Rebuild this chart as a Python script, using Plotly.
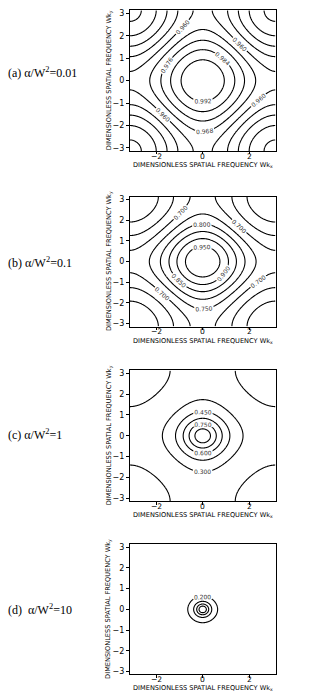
import numpy as np
import plotly.graph_objects as go

# ---- data ----
panel_labels = ["(a) α/W<sup>2</sup>=0.01", "(b) α/W<sup>2</sup>=0.1",
                "(c) α/W<sup>2</sup>=1", "(d)  α/W<sup>2</sup>=10"]
alphas = [0.01, 0.1, 1.0, 10.0]
level_start = [0.928, 0.60, 0.15, 0.20]
level_end = [0.992, 0.95, 0.90, 0.80]
level_step = [0.008, 0.05, 0.15, 0.20]
x_ticks = [-2, 0, 2]
y_ticks = [-3, -2, -1, 0, 1, 2, 3]
x_title = "DIMENSIONLESS SPATIAL FREQUENCY Wk<sub>x</sub>"
y_title = "DIMENSIONLESS SPATIAL FREQUENCY Wk<sub>y</sub>"

# ---- layout (pixel geometry) ----
W, H = 323, 699
x_px = (129.8, 275.6)
y_px = [(9.3, 150.7), (196.4, 327.0), (371.0, 502.4), (545.7, 676.3)]
label_y = [72, 263, 435, 611]
xtitle_gap = [14.5, 14, 13.8, 13.5]
xtick_gap = 5.4
ytitle_x = 108.5

k = np.linspace(-np.pi, np.pi, 241)
KX, KY = np.meshgrid(k, k)
lap = 2 * (1 - np.cos(KX)) + 2 * (1 - np.cos(KY))

fig = go.Figure()
tickfont = dict(family="DejaVu Sans", size=7.6, color="#000")
titlefont = dict(family="DejaVu Sans", size=6.6, color="#000")
black_scale = [[0, "black"], [1, "black"]]


def fmt(v):
    return ("\u2212" + str(abs(v))) if v < 0 else str(v)


for i, a in enumerate(alphas):
    z = 1.0 / (1.0 + a * lap)
    xa = "x" if i == 0 else f"x{i+1}"
    ya = "y" if i == 0 else f"y{i+1}"
    fig.add_trace(go.Contour(
        x=k, y=k, z=z, xaxis=xa, yaxis=ya,
        colorscale=black_scale,
        contours=dict(start=level_start[i], end=level_end[i] + 1e-9,
                      size=level_step[i], coloring="lines",
                      showlabels=True, labelformat=".3f",
                      labelfont=dict(family="DejaVu Sans", size=6, color="#333")),
        line=dict(width=1.1),
        showscale=False, hoverinfo="skip",
    ))
    axn = "" if i == 0 else str(i + 1)
    y0 = 1 - y_px[i][1] / H
    y1 = 1 - y_px[i][0] / H
    fig.layout["xaxis" + axn] = dict(
        domain=[x_px[0] / W, x_px[1] / W], range=[-np.pi, np.pi],
        anchor=ya, tickvals=x_ticks, ticks="outside", ticklen=2.5, tickwidth=0.8,
        tickcolor="#000", showline=True, mirror=True, linecolor="#000", linewidth=0.8,
        showgrid=False, zeroline=False, showticklabels=False,
    )
    fig.layout["yaxis" + axn] = dict(
        domain=[y0, y1], range=[-np.pi, np.pi],
        anchor=xa, tickvals=y_ticks, ticks="outside", ticklen=3, tickwidth=0.8,
        tickcolor="#000", showline=True, mirror=True, linecolor="#000", linewidth=0.8,
        showgrid=False, zeroline=False, tickfont=dict(tickfont, size=8),
    )
    # x tick labels (placed through the x axis scale)
    for tv in x_ticks:
        fig.add_annotation(text=fmt(tv), xref=xa, yref="paper", x=tv,
                           y=1 - (y_px[i][1] + xtick_gap) / H,
                           xanchor="center", yanchor="middle", showarrow=False,
                           borderpad=0, font=tickfont)
    # axis titles
    fig.add_annotation(text=x_title, xref="paper", yref="paper",
                       x=(x_px[0] + x_px[1]) / 2 / W,
                       y=1 - (y_px[i][1] + xtitle_gap[i]) / H,
                       xanchor="center", yanchor="middle", showarrow=False,
                       borderpad=0, font=titlefont)
    fig.add_annotation(text=y_title, xref="paper", yref="paper",
                       x=ytitle_x / W, y=1 - (y_px[i][0] + y_px[i][1]) / 2 / H,
                       xanchor="center", yanchor="middle", showarrow=False,
                       borderpad=0, textangle=-90, font=titlefont)
    # panel label
    fig.add_annotation(text=panel_labels[i], xref="paper", yref="paper",
                       x=6 / W, y=1 - label_y[i] / H, xanchor="left", yanchor="middle",
                       showarrow=False,
                       font=dict(family="Liberation Serif", size=12, color="#000"))

fig.update_layout(width=W, height=H, margin=dict(l=0, r=0, t=0, b=0),
                  paper_bgcolor="white", plot_bgcolor="white", showlegend=False)
fig.write_html("out.html", config={"displayModeBar": False},
               post_script="document.body.style.margin='0px';document.body.style.overflow='hidden';")
